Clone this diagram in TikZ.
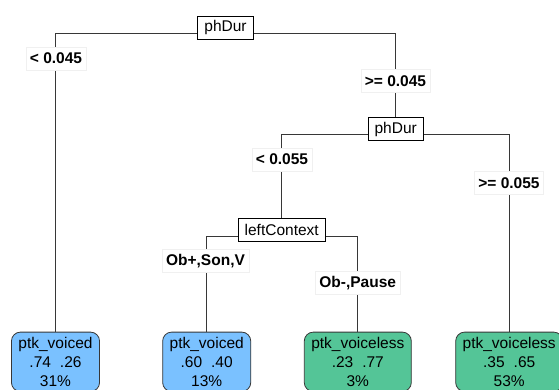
\documentclass[tikz,border=0pt]{standalone}
\usepackage{fontspec}
\setmainfont{Liberation Sans}
\usepackage{tikz}
\usetikzlibrary{positioning}
\definecolor{leafblue}{RGB}{122,193,255}
\definecolor{leafgreen}{RGB}{84,197,151}
\definecolor{linegray}{RGB}{55,55,55}

\begin{document}
\begin{tikzpicture}[x=1pt,y=1pt,
    splitbox/.style={draw=black, fill=white, font=\fontsize{15.5}{18}\selectfont, inner xsep=6.5pt, minimum height=23pt, line width=0.8pt},
    cutlabel/.style={draw=gray!12, fill=white, font=\fontsize{15.5}{18}\selectfont\bfseries, inner xsep=4pt, minimum height=23pt},
    leafbox/.style={draw=linegray, rounded corners=9pt, line width=0.8pt, align=center, anchor=north, inner xsep=7pt, inner ysep=5pt, font=\fontsize{15.5}{19}\selectfont},
    edge/.style={draw=linegray, line width=0.8pt}]
        \clip (0,0) rectangle (559,-390);%leaves run off the page

        \node[splitbox] (phdurA) at (225.5,-27.5) {phDur};
        \node[splitbox] (phdurB) at (395.7,-129) {phDur};
        \node[splitbox] (context) at (281.7,-229.5) {leftContext};

        \node[leafbox, fill=leafblue] (voicedA) at (55.5,-331.7) {ptk\_voiced\\.74\hspace{9pt}.26\\31\%};
        \node[leafbox, fill=leafblue] (voicedB) at (206.7,-331.7) {ptk\_voiced\\.60\hspace{9pt}.40\\13\%};
        \node[leafbox, fill=leafgreen] (voicelessA) at (357.8,-331.7) {ptk\_voiceless\\.23\hspace{9pt}.77\\3\%};
        \node[leafbox, fill=leafgreen] (voicelessB) at (509.2,-331.7) {ptk\_voiceless\\.35\hspace{9pt}.65\\53\%};

        \draw[edge] ([yshift=-5.5pt]phdurA.west) -| (voicedA.north);
        \draw[edge] ([yshift=-5.5pt]phdurA.east) -| (phdurB.north);
        \draw[edge] ([yshift=-5.5pt]phdurB.west) -| (context.north);
        \draw[edge] ([yshift=-5.5pt]phdurB.east) -| (voicelessB.north);
        \draw[edge] ([yshift=-6.5pt]context.west) -| (voicedB.north);
        \draw[edge] ([yshift=-6.5pt]context.east) -| (voicelessA.north);

        \node[cutlabel] (lessA) at (56,-58.5) {< 0.045};
        \node[cutlabel] (moreA) at (395.5,-81) {>= 0.045};
        \node[cutlabel] (lessB) at (282,-159.3) {< 0.055};
        \node[cutlabel] (moreB) at (509,-182.7) {>= 0.055};
        \node[cutlabel] (ctxA) at (205.5,-261) {Ob+,Son,V};
        \node[cutlabel] (ctxB) at (357.7,-282.7) {Ob-,Pause};
\end{tikzpicture}
\end{document}
